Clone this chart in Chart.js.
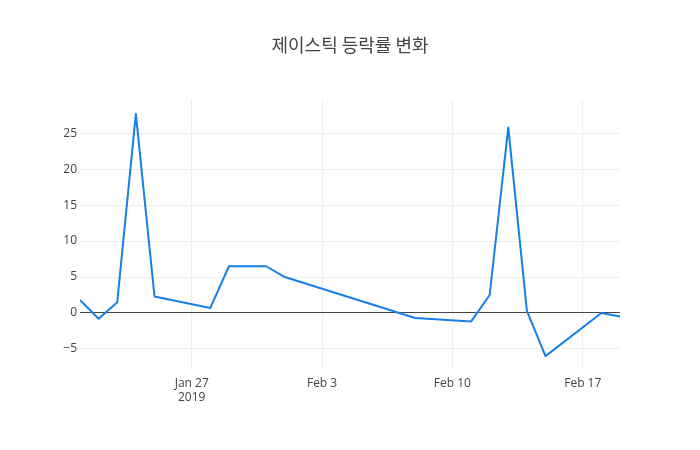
<!DOCTYPE html>
<html>
<head>
<meta charset="utf-8">
<script src="https://cdn.jsdelivr.net/npm/chart.js@4/dist/chart.umd.min.js"></script>
<style>
    html, body { margin: 0; padding: 0; background: #fff; }
    #wrap { width: 700px; height: 450px; }
</style>
</head>
<body>
<div id="wrap"><canvas id="rateChart" width="700" height="450"></canvas></div>
<script>
const TITLE = '제이스틱 등락률 변화';

// trading days and daily change (%)
const dates = ['2019-01-21', '2019-01-22', '2019-01-23', '2019-01-24', '2019-01-25',
    '2019-01-28', '2019-01-29', '2019-01-31', '2019-02-01', '2019-02-08',
    '2019-02-11', '2019-02-12', '2019-02-13', '2019-02-14', '2019-02-15',
    '2019-02-18', '2019-02-19'];
const rates = [1.8, -0.8, 1.5, 27.7, 2.3, 0.7, 6.5, 6.5, 5.0, -0.7,
    -1.2, 2.5, 25.8, 0.3, -6.0, 0.0, -0.5];

const tickDates = ['2019-01-27', '2019-02-03', '2019-02-10', '2019-02-17'];
const tickLabels = [['Jan 27', '2019'], 'Feb 3', 'Feb 10', 'Feb 17'];
const yTicks = [-5, 0, 5, 10, 15, 20, 25];

const DAY = 86400000;
const start = Date.parse(dates[0]);
const toDay = d => (Date.parse(d) - start) / DAY;

const points = dates.map((d, i) => ({ x: toDay(d), y: rates[i] }));
const xTickValues = tickDates.map(toDay);

const textColor = '#444';
const font = { family: '"Open Sans", sans-serif', size: 12 };

new Chart(document.getElementById('rateChart').getContext('2d'), {
    type: 'line',
    data: {
        datasets: [{
            data: points,
            borderColor: 'rgb(22, 128, 230)',
            borderWidth: 2,
            borderJoinStyle: 'round',
            pointRadius: 0,
            tension: 0,
            fill: false
        }]
    },
    options: {
        responsive: false,
        animation: false,
        layout: { padding: 0 },
        plugins: {
            legend: { display: false },
            tooltip: { enabled: false },
            title: {
                display: true,
                text: TITLE,
                color: textColor,
                font: { family: '"Noto Sans CJK KR", "Open Sans", sans-serif', size: 18, weight: 'normal', lineHeight: 1.2 },
                padding: { top: 34, bottom: 44.4 }
            }
        },
        scales: {
            x: {
                type: 'linear',
                min: toDay(dates[0]),
                max: toDay(dates[dates.length - 1]),
                afterBuildTicks: scale => { scale.ticks = xTickValues.map(v => ({ value: v })); },
                afterFit: scale => { scale.height = 80; },
                border: { display: false },
                grid: { color: '#eee', drawTicks: false },
                ticks: {
                    color: textColor,
                    font: font,
                    padding: 6,
                    maxRotation: 0,
                    autoSkip: false,
                    callback: (v) => tickLabels[xTickValues.indexOf(v)]
                }
            },
            y: {
                min: -7.93,
                max: 29.62,
                afterBuildTicks: scale => { scale.ticks = yTicks.map(v => ({ value: v })); },
                afterFit: scale => { scale.width = 80; },
                border: { display: false },
                grid: {
                    drawTicks: false,
                    color: ctx => (ctx.tick && ctx.tick.value === 0 ? '#444' : '#eee'),
                    lineWidth: 1
                },
                ticks: {
                    color: textColor,
                    font: font,
                    padding: 3,
                    callback: v => (v < 0 ? '\u2212' + Math.abs(v) : String(v))
                }
            },
            // empty right margin so the title stays centred on the page
            yRight: {
                position: 'right',
                display: true,
                afterFit: scale => { scale.width = 80; },
                border: { display: false },
                grid: { display: false },
                ticks: { display: false }
            }
        }
    }
});
</script>
</body>
</html>
